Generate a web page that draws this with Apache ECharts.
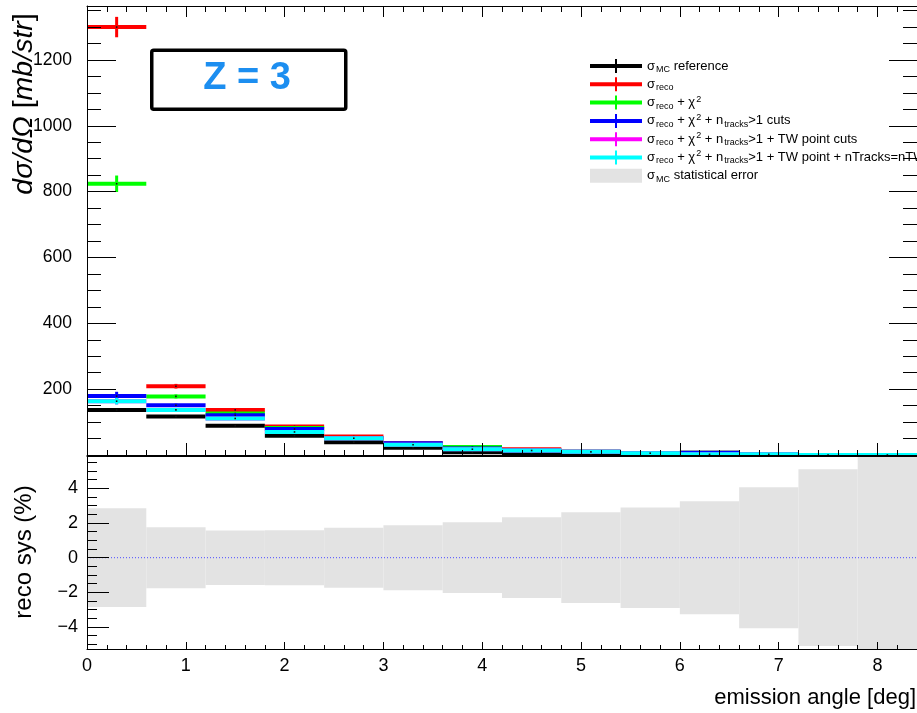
<!DOCTYPE html>
<html>
<head>
<meta charset="utf-8">
<script src="https://cdn.jsdelivr.net/npm/echarts@6/dist/echarts.min.js"></script>
<style>
html, body { margin: 0; padding: 0; background: #fff; overflow: hidden; }
#c { width: 917px; height: 713px; }
</style>
</head>
<body>
<div id="c"></div>
<script>
// Emission-angle binning (deg): 14 bins, 0.6 deg wide
const binEdges = [0, 0.6, 1.2, 1.8, 2.4, 3.0, 3.6, 4.2, 4.8, 5.4, 6.0, 6.6, 7.2, 7.8, 8.4];

// dσ/dΩ [mb/str] per bin, with statistical errors
const sigmaMC        = [137, 117, 89, 58.6, 39, 22, 8, 6, 2.5, 0.5, 0.3, 0.3, 0.2, 0.1];
const sigmaMCErr     = [4, 3, 3, 2, 2, 1.5, 1, 1, 0.5, 0.5, 0.3, 0.3, 0.1, 0.1];
const sigmaReco      = [1300, 209, 137, 86.6, 56, 36, 24, 17.6, 9.5, 5.5, 6.5, 2, 0.2, 0.1];
const sigmaRecoErr   = [31, 7, 5, 4, 3, 3, 2, 2, 1.5, 1, 1, 0.5, 0.2, 0.2];
const sigmaChi2      = [824, 178, 126, 82, 51, 32, 24, 14, 9.5, 5.5, 6.5, 2, 0.2, 0.1];
const sigmaChi2Err   = [25, 6, 4, 3, 3, 2, 2, 1.5, 1, 1, 1, 0.5, 0.2, 0.2];
const sigmaNtrk      = [179, 151, 121, 79, 51, 36, 20, 14, 9.5, 5.5, 6.5, 2, 0.1, 0.05];
const sigmaNtrkErr   = [13, 5, 4, 3, 2, 2, 1.5, 1, 1, 1, 1, 0.5, 0.2, 0.2];
const sigmaTW        = [163.5, 137, 111, 70, 51, 31, 17.6, 13.6, 9.6, 5.5, 2, 2, 0, 0];
const sigmaTWErr     = [10, 5, 4, 3, 2, 2, 1.5, 1, 1, 1, 1, 0.5, 0.2, 0.2];
const sigmaTWnTrk    = [163.5, 137, 111, 70, 51, 31, 17.6, 13.6, 9.6, 5.5, 2, 2, 0, 0];
const sigmaTWnTrkErr = [10, 5, 4, 3, 2, 2, 1.5, 1, 1, 1, 1, 0.5, 0.2, 0.2];

// Relative MC statistical error (%) per bin, lower panel
const statErrPct = [2.85, 1.76, 1.57, 1.59, 1.73, 1.88, 2.04, 2.33, 2.62, 2.90, 3.26, 4.07, 5.10, 6.5];

// Tick labels
const xTickLabels = [0, 1, 2, 3, 4, 5, 6, 7, 8];
const yTopTickLabels = [200, 400, 600, 800, 1000, 1200];
const yBotTickLabels = [-4, -2, 0, 2, 4];

const FONT = 'Liberation Sans, Arial, Helvetica, sans-serif';

function range(a, b, step) {
  const out = [];
  const n = Math.round((b - a) / step);
  for (let i = 0; i <= n; i++) out.push(+(a + i * step).toFixed(6));
  return out;
}
const xMinorTicks = range(0, 8.4, 0.2);
const yTopMinorTicks = range(0, 1350, 50);
const yBotMinorTicks = range(-5, 5.5, 0.5);

function histData(vals, errs) {
  return vals.map((v, i) => [binEdges[i], binEdges[i + 1], v, errs[i]]);
}

// Histogram bin drawn as a horizontal bar across the bin, a vertical error bar and a centre dot
function renderHist(params, api) {
  const lo = api.value(0), hi = api.value(1), v = api.value(2), e = api.value(3);
  const c = (lo + hi) / 2;
  const pL = api.coord([lo, v]), pR = api.coord([hi, v]);
  const pT = api.coord([c, v + e]), pB = api.coord([c, v - e]);
  const color = api.visual('color');
  return {
    type: 'group',
    children: [
      { type: 'line', shape: { x1: pL[0], y1: pL[1], x2: pR[0], y2: pR[1] }, style: { stroke: color, lineWidth: 4 } },
      { type: 'line', shape: { x1: pT[0], y1: pT[1], x2: pB[0], y2: pB[1] }, style: { stroke: color, lineWidth: 3 } },
      { type: 'rect', shape: { x: (pL[0] + pR[0]) / 2 - 0.8, y: pL[1] - 0.8, width: 1.6, height: 1.6 }, style: { fill: '#111' } }
    ]
  };
}

// Error band rectangles, clipped to the lower frame
function renderBand(params, api) {
  const lo = api.value(0), hi = api.value(1), e = api.value(2);
  const p1 = api.coord([lo, e]), p2 = api.coord([hi, -e]);
  const cs = params.coordSys;
  const rect = echarts.graphic.clipRectByRect(
    { x: p1[0], y: p1[1], width: p2[0] - p1[0], height: p2[1] - p1[1] },
    { x: cs.x, y: cs.y, width: cs.width, height: cs.height }
  );
  if (!rect) return null;
  return { type: 'rect', shape: rect, style: { fill: '#e3e3e3' } };
}

const seriesDefs = [
  { name: 'mc',   color: '#000000', vals: sigmaMC,     errs: sigmaMCErr },
  { name: 'reco', color: '#ff0000', vals: sigmaReco,   errs: sigmaRecoErr },
  { name: 'chi2', color: '#00ff00', vals: sigmaChi2,   errs: sigmaChi2Err },
  { name: 'ntrk', color: '#0000ff', vals: sigmaNtrk,   errs: sigmaNtrkErr },
  { name: 'tw',   color: '#ff00ff', vals: sigmaTW,     errs: sigmaTWErr },
  { name: 'twn',  color: '#00ffff', vals: sigmaTWnTrk, errs: sigmaTWnTrkErr }
];

const legendText = {
  mc:   'σ{sub|MC} reference',
  reco: 'σ{sub|reco}',
  chi2: 'σ{sub|reco} + χ{sup|2}',
  ntrk: 'σ{sub|reco} + χ{sup|2} + n{sub|tracks}>1 cuts',
  tw:   'σ{sub|reco} + χ{sup|2} + n{sub|tracks}>1 + TW point cuts',
  twn:  'σ{sub|reco} + χ{sup|2} + n{sub|tracks}>1 + TW point + nTracks=nTW',
  band: 'σ{sub|MC} statistical error'
};

const lineIcon = 'path://M0,5h52v4h-52z M25,0h2v14h-2z';
const boxIcon = 'path://M0,0h52v14h-52z';

const tickStyle = { color: '#000', width: 1 };
const frameLine = { show: true, onZero: false, lineStyle: { color: '#000', width: 1 } };
const noLine = { show: false, onZero: false };

// Ticks point into the frame (negative length)
function ticks(len, values) {
  return { show: true, inside: false, length: -len, lineStyle: tickStyle, customValues: values };
}

function xAx(grid, pos, opts) {
  return Object.assign({
    type: 'value', gridIndex: grid, position: pos, min: 0, max: 8.4, z: 10,
    axisLine: noLine, splitLine: { show: false },
    axisLabel: { show: false }, axisTick: { show: false }
  }, opts);
}
function yAx(grid, pos, min, max, opts) {
  return Object.assign({
    type: 'value', gridIndex: grid, position: pos, min: min, max: max, z: 10,
    axisLine: noLine, splitLine: { show: false },
    axisLabel: { show: false }, axisTick: { show: false }
  }, opts);
}

const Y_TOP_MAX = 1364;
const Y_BOT_MIN = -5.27, Y_BOT_MAX = 5.87;

const option = {
  animation: false,
  backgroundColor: '#ffffff',
  grid: [
    { left: 87, right: -1, top: 6, height: 449, show: false },
    { left: 87, right: -1, top: 456, height: 193, show: false }
  ],
  xAxis: [
    // upper frame: bottom edge
    xAx(0, 'bottom', { axisLine: frameLine, axisTick: ticks(5, xMinorTicks) }),
    xAx(0, 'bottom', { axisTick: ticks(12, xTickLabels) }),
    // upper frame: top edge
    xAx(0, 'top', { axisLine: frameLine, axisTick: ticks(6, xMinorTicks) }),
    xAx(0, 'top', { axisTick: ticks(11, xTickLabels) }),
    // lower frame: bottom edge with labels
    xAx(1, 'bottom', { axisLine: frameLine, axisTick: ticks(4, xMinorTicks) }),
    xAx(1, 'bottom', {
      axisTick: ticks(7, xTickLabels),
      axisLabel: { show: true, customValues: xTickLabels, margin: 8, fontFamily: FONT, fontSize: 18, color: '#000' }
    }),
    // lower frame: top edge
    xAx(1, 'top', { axisLine: frameLine })
  ],
  yAxis: [
    yAx(0, 'left', 0, Y_TOP_MAX, { axisLine: frameLine, axisTick: ticks(14, yTopMinorTicks) }),
    yAx(0, 'left', 0, Y_TOP_MAX, {
      axisTick: ticks(29, yTopTickLabels),
      axisLabel: { show: true, customValues: yTopTickLabels, margin: 15, fontFamily: FONT, fontSize: 17.5, color: '#000',
        formatter: v => String(v) }
    }),
    yAx(0, 'right', 0, Y_TOP_MAX, { axisLine: frameLine, axisTick: ticks(14, yTopMinorTicks) }),
    yAx(0, 'right', 0, Y_TOP_MAX, { axisTick: ticks(28, yTopTickLabels) }),
    yAx(1, 'left', Y_BOT_MIN, Y_BOT_MAX, { axisLine: frameLine, axisTick: ticks(10, yBotMinorTicks) }),
    yAx(1, 'left', Y_BOT_MIN, Y_BOT_MAX, {
      axisTick: ticks(22, yBotTickLabels),
      axisLabel: { show: true, customValues: yBotTickLabels, margin: 9, fontFamily: FONT, fontSize: 18, color: '#000',
        formatter: v => String(v).replace('-', '\u2212') }
    })
  ],
  legend: {
    orient: 'vertical', left: 590, top: 58, padding: 0, itemWidth: 52, itemHeight: 14, itemGap: 2.3,
    selectedMode: false,
    data: seriesDefs.map(s => ({ name: s.name, icon: lineIcon })).concat([{ name: 'band', icon: boxIcon }]),
    formatter: name => legendText[name],
    textStyle: {
      fontFamily: FONT, fontSize: 13, color: '#000', lineHeight: 16,
      rich: {
        sub: { fontFamily: FONT, fontSize: 9, lineHeight: 9, verticalAlign: 'bottom', color: '#000', padding: [0, 0, 0, 1] },
        sup: { fontFamily: FONT, fontSize: 9, lineHeight: 9, verticalAlign: 'top', color: '#000', padding: [0, 0, 0, 1] }
      }
    }
  },
  graphic: [
    { type: 'rect', left: 150, top: 48.5, shape: { width: 194, height: 59, r: 2 },
      style: { fill: '#fff', stroke: '#000', lineWidth: 3.5 }, z: 20 },
    { type: 'text', x: 247, y: 79, z: 21,
      style: { text: 'Z = 3', fill: '#1c8ef0', font: 'bold 38px ' + FONT, align: 'center', verticalAlign: 'middle' } },
    { type: 'text', x: 24, y: 104, rotation: Math.PI / 2, z: 21,
      style: {
        text: '{i|dσ/dΩ} [{i|mb/str}]', align: 'center', verticalAlign: 'middle',
        font: '28.5px ' + FONT, fill: '#000',
        rich: { i: { font: 'italic 28.5px ' + FONT, fill: '#000' } }
      } },
    { type: 'text', x: 24, y: 552, rotation: Math.PI / 2, z: 21,
      style: { text: 'reco sys (%)', align: 'center', verticalAlign: 'middle', font: '24px ' + FONT, fill: '#000' } },
    { type: 'text', x: 916, y: 698, z: 21,
      style: { text: 'emission angle [deg]', align: 'right', verticalAlign: 'middle', font: '22px ' + FONT, fill: '#000' } }
  ],
  series: seriesDefs.map(s => ({
    type: 'custom', name: s.name, xAxisIndex: 0, yAxisIndex: 0,
    itemStyle: { color: s.color }, renderItem: renderHist, silent: true,
    data: histData(s.vals, s.errs), z: 3
  })).concat([
    {
      type: 'custom', name: 'band', xAxisIndex: 4, yAxisIndex: 4,
      itemStyle: { color: '#e3e3e3' }, renderItem: renderBand, silent: true,
      data: statErrPct.map((e, i) => [binEdges[i], binEdges[i + 1], e]), z: 1
    },
    {
      type: 'line', name: 'zero', xAxisIndex: 4, yAxisIndex: 4, symbol: 'none', silent: true,
      data: [[0, 0], [8.4, 0]],
      lineStyle: { color: '#4a4aff', width: 1, type: [1, 2] }, z: 2
    }
  ])
};

const chart = echarts.init(document.getElementById('c'), null, { renderer: 'canvas' });
chart.setOption(option);
</script>
</body>
</html>
